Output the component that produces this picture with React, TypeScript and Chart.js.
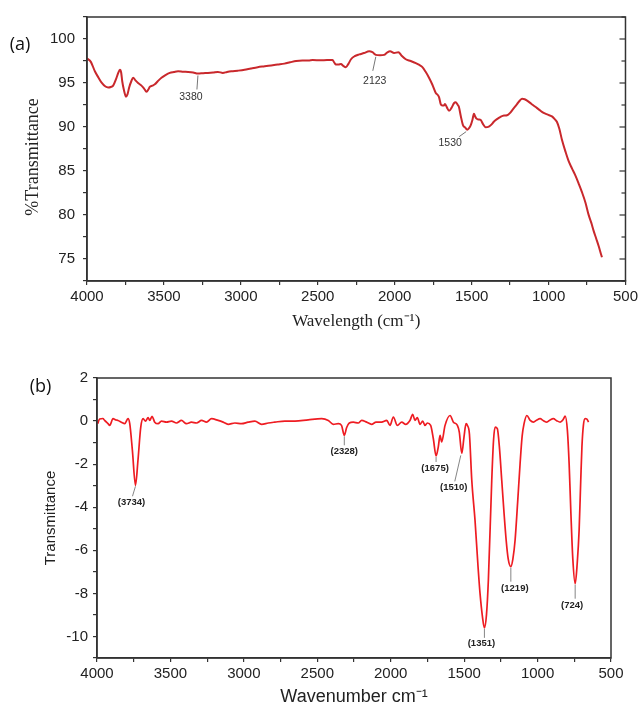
import React, { useEffect, useRef } from 'react';
import { Chart, registerables } from 'chart.js';

Chart.register(...registerables);

// ---------- Panel (a) data ----------
const wavenumbersA = [
  4000, 3975, 3948, 3925, 3905, 3880, 3862, 3845, 3830, 3810, 3797, 3786, 3778, 3771, 3760, 3747, 3737, 3726, 3712, 3700,
  3685, 3668, 3646, 3630, 3613, 3600, 3592, 3575, 3559, 3540, 3516, 3490, 3462, 3435, 3408, 3375, 3343, 3310, 3279, 3245,
  3214, 3180, 3149, 3117, 3090, 3062, 3020, 2976, 2935, 2890, 2845, 2803, 2760, 2717, 2680, 2641, 2600, 2560, 2533, 2480,
  2440, 2404, 2392, 2382, 2365, 2349, 2335, 2317, 2300, 2284, 2260, 2231, 2200, 2166, 2145, 2123, 2095, 2069, 2050, 2030,
  2004, 1976, 1955, 1928, 1896, 1863, 1840, 1820, 1800, 1777, 1755, 1734, 1712, 1701, 1691, 1680, 1673, 1660, 1647, 1630,
  1615, 1604, 1590, 1583, 1570, 1557, 1540, 1529, 1518, 1507, 1495, 1485, 1477, 1470, 1455, 1442, 1425, 1410, 1388, 1370,
  1356, 1335, 1312, 1290, 1269, 1250, 1237, 1205, 1185, 1172, 1155, 1140, 1113, 1086, 1060, 1032, 1005, 978, 960, 946,
  930, 913, 890, 870, 848, 826, 805, 783, 760, 740, 722, 707, 690, 675, 660, 653,
];
const transmittanceA = [
  97.8, 97.4, 96.3, 95.6, 95.04, 94.6, 94.5, 94.55, 94.7, 95.5, 96.15, 96.5, 96.2, 95.2, 94.2, 93.45, 93.7, 94.5, 95.2, 95.6,
  95.3, 95.0, 94.7, 94.4, 94.0, 94.3, 94.56, 94.7, 94.85, 95.2, 95.6, 95.9, 96.15, 96.25, 96.33, 96.28, 96.26, 96.2, 96.08, 96.12,
  96.15, 96.2, 96.26, 96.15, 96.25, 96.33, 96.4, 96.5, 96.65, 96.8, 96.9, 97.0, 97.1, 97.2, 97.35, 97.5, 97.55, 97.55, 97.6, 97.58,
  97.6, 97.6, 97.3, 97.1, 97.1, 97.15, 96.95, 96.8, 97.2, 97.7, 98.05, 98.25, 98.4, 98.6, 98.5, 98.2, 98.15, 98.2, 98.45, 98.6,
  98.4, 98.5, 98.1, 97.7, 97.5, 97.26, 97.05, 96.8, 96.3, 95.6, 94.8, 93.9, 93.4, 92.6, 92.45, 92.45, 92.6, 92.2, 91.85, 92.2,
  92.7, 92.8, 92.5, 92.3, 91.2, 90.25, 89.9, 89.7, 89.85, 90.15, 90.8, 91.5, 91.2, 90.97, 90.85, 90.8, 90.3, 89.97, 90.04, 90.3,
  90.6, 90.9, 91.15, 91.3, 91.33, 91.6, 91.9, 92.6, 93.05, 93.2, 93.15, 93.0, 92.65, 92.3, 91.95, 91.6, 91.4, 91.2, 90.9, 90.6,
  89.8, 88.55, 87.2, 86.15, 85.3, 84.5, 83.6, 82.6, 81.4, 80.04, 79.1, 78.2, 77.3, 76.5, 75.6, 75.2,
];
const peakLabelsA = ['3380', '2123', '1530'];
const peakAtA = [3279, 2123, 1529];

// ---------- Panel (b) data ----------
const wavenumbersB = [
  3995, 3982, 3960, 3948, 3925, 3913, 3891, 3870, 3857, 3834, 3811, 3789, 3777, 3759, 3738, 3721, 3702, 3686, 3670, 3652,
  3641, 3625, 3607, 3584, 3561, 3527, 3493, 3459, 3425, 3391, 3357, 3322, 3288, 3254, 3220, 3175, 3141, 3107, 3061, 3016,
  2971, 2925, 2879, 2834, 2789, 2721, 2652, 2562, 2470, 2425, 2391, 2357, 2335, 2316, 2300, 2282, 2255, 2221, 2198, 2164,
  2130, 2100, 2062, 2027, 2005, 1982, 1955, 1925, 1898, 1869, 1850, 1835, 1819, 1800, 1782, 1767, 1751, 1728, 1710, 1691,
  1676, 1664, 1653, 1630, 1596, 1573, 1546, 1533, 1516, 1501, 1487, 1478, 1464, 1448, 1426, 1405, 1392, 1375, 1362, 1348,
  1335, 1312, 1300, 1289, 1274, 1260, 1244, 1228, 1214, 1200, 1182, 1168, 1153, 1136, 1119, 1105, 1092, 1073, 1050, 1028,
  1005, 983, 960, 937, 915, 892, 870, 846, 825, 812, 797, 785, 773, 760, 744, 730, 717, 706, 698, 688,
  676, 665, 653,
];
const transmittanceB = [
  -0.12, 0.1, 0.12, 0.03, -0.12, -0.2, 0.11, 0.05, 0.03, -0.05, -0.12, 0.11, -0.12, -1.36, -2.98, -1.82, -0.28, 0.11, 0, 0.16,
  0.03, 0.22, -0.05, -0.12, 0, -0.05, 0, -0.09, 0.03, -0.12, -0.05, -0.09, 0.03, -0.05, 0.11, 0.03, -0.05, -0.15, -0.09, -0.12,
  -0.05, 0, -0.15, -0.09, -0.05, 0, 0, 0.06, 0.11, 0.03, -0.15, -0.12, -0.2, -0.66, -0.3, -0.09, -0.05, -0.09, 0.03, -0.05,
  -0.15, -0.05, -0.05, 0.03, -0.2, 0.19, -0.2, -0.05, -0.15, 0.03, 0.31, 0.03, 0.16, -0.15, 0, -0.2, -0.09, -0.2, -0.81, -1.62,
  -1.2, -0.66, -0.97, -0.2, 0.26, -0.05, -0.2, -0.51, -1.5, -0.74, -0.12, -0.2, -0.6, -2.75, -4.6, -6.8, -7.99, -9.1, -9.6, -9.0,
  -7.38, -2.75, -0.9, -0.28, -0.35, -1.2, -2.75, -4.3, -5.52, -6.4, -6.76, -6.4, -5.52, -3.8, -1.97, -0.7, -0.12, 0.26, 0.03, -0.05,
  0.05, 0.11, 0.02, -0.05, 0.05, 0.11, 0.02, -0.05, 0.08, 0.23, -0.43, -2.0, -4.29, -6.4, -7.55, -6.6, -5.06, -2.75, -1.2, -0.2,
  0.11, 0.1, -0.05,
];
const peakLabelsB = ['(3734)', '(2328)', '(1675)', '(1510)', '(1351)', '(1219)', '(724)'];
const peakAtB = [3738, 2316, 1691, 1516, 1362, 1182, 744];

// ---------- Tick labels ----------
const xMajorTicks = [4000, 3500, 3000, 2500, 2000, 1500, 1000, 500];
const yMajorTicksA = [75, 80, 85, 90, 95, 100];
const yMajorTicksB = [2, 0, -2, -4, -6, -8, -10];

// ---------- Styling / placement (not data) ----------
const annotationStyleA = [
  { line: [0, 2, -1, 16], text: [-7, 24] },
  { line: [0, 2, -3, 16], text: [-1, 26] },
  { line: [-1, 2, -8, 7], text: [-17, 13] },
];
const annotationStyleB = [
  { line: [0, 1, -3, 11], text: [-4, 17] },
  { line: [0, 1, 0, 10], text: [0, 16] },
  { line: [0, 1, 0, 6], text: [-1, 12] },
  { line: [-1, 2, -7, 28], text: [-8, 34] },
  { line: [0, 1, 0, 10], text: [-3, 16] },
  { line: [0, 1, 0, 15], text: [4, 22] },
  { line: [0, 1, 0, 15], text: [-3, 22] },
];

function nearestIndex(xs: number[], v: number) {
  let bi = 0;
  let bd = Infinity;
  xs.forEach((x, i) => {
    const d = Math.abs(x - v);
    if (d < bd) { bd = d; bi = i; }
  });
  return bi;
}

const decorPlugin = {
  id: 'decor',
  afterDatasetsDraw(chart: any, _args: any, opts: any) {
    const { ctx, chartArea: ca, scales } = chart;
    const xs = scales.x;
    const ys = scales.y;
    ctx.save();
    // frame
    ctx.strokeStyle = opts.frameColor;
    ctx.lineWidth = opts.frameWidth;
    ctx.strokeRect(ca.left, ca.top, ca.right - ca.left, ca.bottom - ca.top);
    // inward right ticks
    if (opts.rightTicks) {
      ctx.lineWidth = 1.2;
      ys.ticks.forEach((t: any) => {
        const y = ys.getPixelForValue(t.value);
        const major = opts.majorY.includes(t.value);
        ctx.beginPath();
        ctx.moveTo(ca.right, y);
        ctx.lineTo(ca.right - (major ? 6 : 4), y);
        ctx.stroke();
      });
    }
    // peak annotations
    const { xsData, ysData, labels, at, styles } = opts.ann;
    labels.forEach((lab: string, i: number) => {
      const idx = nearestIndex(xsData, at[i]);
      const px = xs.getPixelForValue(xsData[idx]);
      const py = ys.getPixelForValue(ysData[idx]);
      const st = styles[i];
      ctx.strokeStyle = opts.leaderColor;
      ctx.lineWidth = 0.9;
      ctx.beginPath();
      ctx.moveTo(px + st.line[0], py + st.line[1]);
      ctx.lineTo(px + st.line[2], py + st.line[3]);
      ctx.stroke();
      ctx.fillStyle = opts.annColor;
      ctx.font = opts.annFont;
      ctx.textAlign = 'center';
      ctx.textBaseline = 'middle';
      ctx.fillText(lab, px + st.text[0], py + st.text[1]);
    });
    // panel label
    ctx.fillStyle = '#111';
    ctx.font = opts.panelFont;
    ctx.textAlign = 'center';
    ctx.textBaseline = 'middle';
    ctx.fillText(opts.panel, opts.panelPos[0], opts.panelPos[1]);
    // custom y title
    if (opts.yTitle) {
      ctx.save();
      ctx.translate(opts.yTitle.pos[0], opts.yTitle.pos[1]);
      ctx.rotate(-Math.PI / 2);
      ctx.font = opts.yTitle.font;
      ctx.fillStyle = '#222';
      ctx.textAlign = 'center';
      ctx.textBaseline = 'middle';
      ctx.fillText(opts.yTitle.text, 0, 0);
      ctx.restore();
    }
    ctx.restore();
  },
};

const SANS = '"Liberation Sans", Arial, sans-serif';
const SERIF = '"Liberation Serif", "Times New Roman", serif';

function configA(): any {
  return {
    type: 'line',
    data: {
      datasets: [
        {
          data: wavenumbersA.map((x, i) => ({ x, y: transmittanceA[i] })),
          borderColor: '#C9282C',
          borderWidth: 2,
          pointRadius: 0,
          cubicInterpolationMode: 'monotone',
          fill: false,
        },
      ],
    },
    plugins: [decorPlugin],
    options: {
      animation: false,
      responsive: false,
      devicePixelRatio: 1,
      layout: { padding: { top: 11, right: 14, left: 0, bottom: 0 } },
      plugins: {
        legend: { display: false },
        tooltip: { enabled: false },
        decor: {
          frameColor: '#333',
          frameWidth: 1.5,
          rightTicks: true,
          majorY: yMajorTicksA,
          leaderColor: '#666',
          annColor: '#333',
          annFont: `10.5px ${SANS}`,
          panel: '(a)',
          panelFont: '18px "Open Sans", sans-serif',
          panelPos: [20, 45],
          yTitle: { text: '%Transmittance', font: `18px ${SERIF}`, pos: [33, 157] },
          ann: { xsData: wavenumbersA, ysData: transmittanceA, labels: peakLabelsA, at: peakAtA, styles: annotationStyleA },
        },
      },
      scales: {
        x: {
          type: 'linear',
          min: 500,
          max: 4000,
          reverse: true,
          afterFit: (s: any) => { s.height = 55; },
          ticks: {
            stepSize: 250,
            autoSkip: false,
            maxRotation: 0,
            padding: 3,
            color: '#222',
            font: { family: SANS, size: 15 },
            callback: (v: number) => (xMajorTicks.includes(v) ? String(v) : ''),
          },
          grid: { display: true, drawOnChartArea: false, drawTicks: true, tickLength: 4, color: '#333', lineWidth: 1.2 },
          border: { display: true, color: '#333', width: 1.5 },
          title: {
            display: true,
            text: 'Wavelength (cm⁻¹)',
            color: '#222',
            font: { family: SERIF, size: 17 },
            padding: { top: 0, bottom: 3.8 },
          },
        },
        y: {
          type: 'linear',
          min: 72.5,
          max: 102.5,
          afterFit: (s: any) => { s.width = 87; },
          ticks: {
            stepSize: 2.5,
            autoSkip: false,
            padding: 8,
            color: '#222',
            font: { family: SANS, size: 15 },
            callback: (v: number) => (yMajorTicksA.includes(v) ? String(v) : ''),
          },
          grid: { display: true, drawOnChartArea: false, drawTicks: true, tickLength: 4, color: '#333', lineWidth: 1.2 },
          border: { display: true, color: '#333', width: 1.5 },
          title: { display: false },
        },
      },
    },
  };
}

function configB(): any {
  return {
    type: 'line',
    data: {
      datasets: [
        {
          data: wavenumbersB.map((x, i) => ({ x, y: transmittanceB[i] })),
          borderColor: '#EE1C22',
          borderWidth: 1.7,
          pointRadius: 0,
          cubicInterpolationMode: 'monotone',
          fill: false,
        },
      ],
    },
    plugins: [decorPlugin],
    options: {
      animation: false,
      responsive: false,
      devicePixelRatio: 1,
      layout: { padding: { top: 42, right: 30, left: 0, bottom: 0 } },
      plugins: {
        legend: { display: false },
        tooltip: { enabled: false },
        decor: {
          frameColor: '#333',
          frameWidth: 1.5,
          rightTicks: false,
          majorY: yMajorTicksB,
          leaderColor: '#777',
          annColor: '#222',
          annFont: `bold 9.5px ${SANS}`,
          panel: '(b)',
          panelFont: '18px "Open Sans", sans-serif',
          panelPos: [40.5, 51],
          yTitle: null,
          ann: { xsData: wavenumbersB, ysData: transmittanceB, labels: peakLabelsB, at: peakAtB, styles: annotationStyleB },
        },
      },
      scales: {
        x: {
          type: 'linear',
          min: 500,
          max: 4000,
          reverse: true,
          afterFit: (s: any) => { s.height = 48; },
          ticks: {
            stepSize: 250,
            autoSkip: false,
            maxRotation: 0,
            padding: 3,
            color: '#222',
            font: { family: SANS, size: 15 },
            callback: (v: number) => (xMajorTicks.includes(v) ? String(v) : ''),
          },
          grid: { display: true, drawOnChartArea: false, drawTicks: true, tickLength: 4, color: '#333', lineWidth: 1.2 },
          border: { display: true, color: '#333', width: 1.5 },
          title: {
            display: true,
            text: 'Wavenumber cm⁻¹',
            color: '#222',
            font: { family: SANS, size: 18, lineHeight: 1 },
            padding: { top: 0, bottom: 0 },
          },
        },
        y: {
          type: 'linear',
          min: -11,
          max: 2,
          afterFit: (s: any) => { s.width = 97; },
          ticks: {
            stepSize: 1,
            autoSkip: false,
            padding: 5,
            color: '#222',
            font: { family: SANS, size: 15 },
            callback: (v: number) => (yMajorTicksB.includes(v) ? String(v) : ''),
          },
          grid: { display: true, drawOnChartArea: false, drawTicks: true, tickLength: 4, color: '#333', lineWidth: 1.2 },
          border: { display: true, color: '#333', width: 1.5 },
          title: {
            display: true,
            text: 'Transmittance',
            color: '#222',
            font: { family: SANS, size: 15 },
            padding: { top: 42, bottom: 0 },
          },
        },
      },
    },
  };
}

export default function App() {
  const refA = useRef<HTMLCanvasElement | null>(null);
  const refB = useRef<HTMLCanvasElement | null>(null);

  useEffect(() => {
    const a = new Chart(refA.current as HTMLCanvasElement, configA());
    const b = new Chart(refB.current as HTMLCanvasElement, configB());
    return () => {
      a.destroy();
      b.destroy();
    };
  }, []);

  return (
    <div style={{ position: 'fixed', left: 0, top: 0, width: 641, height: 706, background: '#fff', overflow: 'hidden' }}>
      <canvas ref={refA} width={641} height={336} style={{ position: 'absolute', left: 0, top: 0, width: 641, height: 336 }} />
      <canvas ref={refB} width={641} height={370} style={{ position: 'absolute', left: 0, top: 336, width: 641, height: 370 }} />
    </div>
  );
}
